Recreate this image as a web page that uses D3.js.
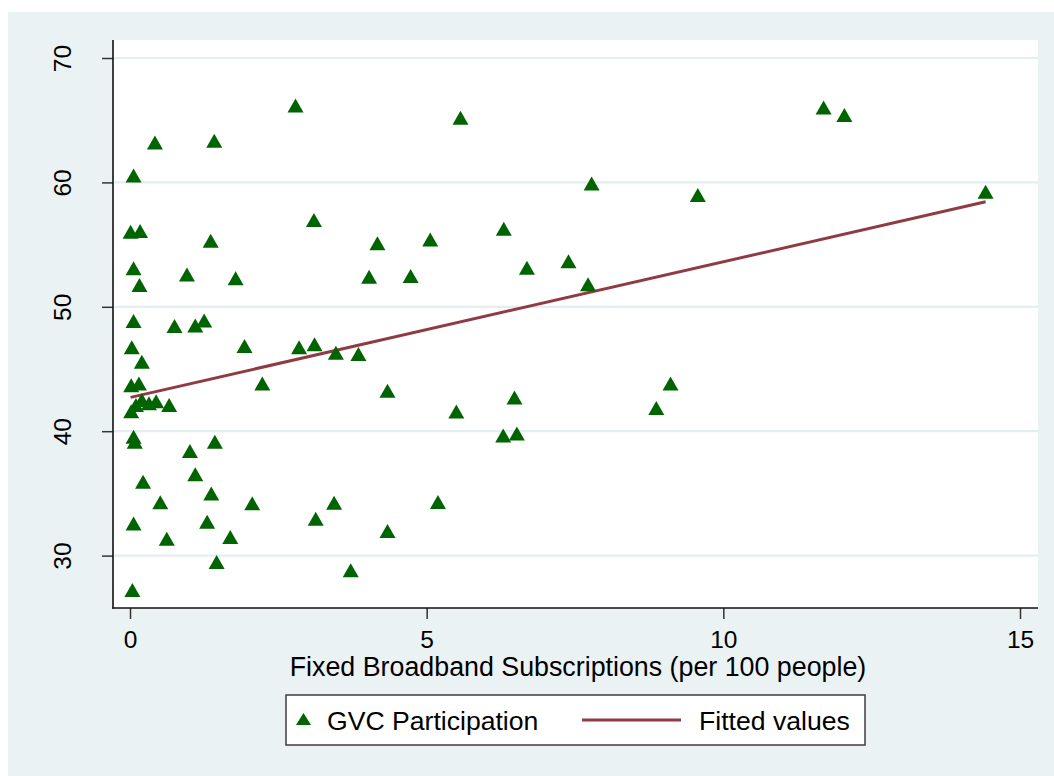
<!DOCTYPE html>
<html>
<head>
<meta charset="utf-8">
<script src="https://cdn.jsdelivr.net/npm/d3@7"></script>
<style>
  html, body { margin: 0; padding: 0; background: #ffffff; }
  svg { display: block; font-family: "Liberation Sans", Arial, sans-serif; }
</style>
</head>
<body>
<svg id="chart" width="1054" height="776"></svg>
<script>
// ---- Data ----
const broadband = [
  0.06, 0.01, 0.17, 1.36, 0.06, 0.96, 1.78, 0.16, 0.06, 0.75,
  1.10, 1.25, 0.03, 1.93, 0.20, 0.02, 0.15, 2.23, 0.10, 0.20,
  0.32, 0.44, 0.66, 0.02, 0.06, 0.08, 1.43, 1.01, 1.10, 0.22,
  1.37, 0.51, 2.06, 0.06, 1.30, 0.62, 1.69, 1.46, 0.04, 2.79,
  5.57, 3.10, 4.17, 5.06, 6.30, 4.03, 4.73, 6.69, 2.85, 3.11,
  3.47, 3.85, 4.34, 5.50, 6.48, 6.29, 6.52, 3.44, 3.13, 5.19,
  4.34, 3.72, 11.69, 12.04, 7.78, 9.57, 14.42, 7.39, 7.72, 9.11,
  8.87, 1.42, 0.42
];
const gvc = [
  60.56, 56.03, 56.10, 55.30, 53.10, 52.60, 52.30, 51.75, 48.85, 48.45,
  48.50, 48.90, 46.74, 46.84, 45.58, 43.70, 43.84, 43.84, 42.10, 42.50,
  42.25, 42.40, 42.10, 41.60, 39.55, 39.15, 39.15, 38.40, 36.53, 35.93,
  35.00, 34.28, 34.20, 32.59, 32.72, 31.35, 31.49, 29.48, 27.23, 66.19,
  65.19, 56.97, 55.10, 55.42, 56.27, 52.41, 52.47, 53.14, 46.74, 46.98,
  46.30, 46.20, 43.25, 41.59, 42.70, 39.66, 39.82, 34.24, 32.96, 34.30,
  31.97, 28.83, 66.03, 65.41, 59.92, 58.98, 59.25, 53.67, 51.82, 43.84,
  41.86, 63.35, 63.20
];
const fitX = [0.01, 14.42];
const fitY = [42.72, 58.44];
const xTicks = [0, 5, 10, 15];
const yTicks = [30, 40, 50, 60, 70];
const xTitle = "Fixed Broadband Subscriptions (per 100 people)";
const legendLabels = ["GVC Participation", "Fitted values"];

// ---- Styles ----
const bgColor = "#eaf2f3";
const gridColor = "#e4edef";
const markerColor = "#006400";
const lineColor = "#903a44";
const fontSize = 26.8;
const tickFont = 24.5;

const svg = d3.select("#chart");
const W = 1054, H = 776;
const plot = { left: 113, top: 40, right: 1038, bottom: 608 };

svg.append("rect").attr("x", 0).attr("y", 0).attr("width", W).attr("height", H).attr("fill", "#ffffff");
svg.append("rect").attr("x", 8).attr("y", 12).attr("width", W - 8).attr("height", H - 12).attr("fill", bgColor);
svg.append("rect").attr("x", plot.left).attr("y", plot.top)
  .attr("width", plot.right - plot.left).attr("height", plot.bottom - plot.top).attr("fill", "#ffffff");

const x = d3.scaleLinear().domain([0, 15]).range([130, 1020]);
const y = d3.scaleLinear().domain([30, 70]).range([555.6, 58]);

// gridlines
svg.append("g").selectAll("line").data(yTicks).join("line")
  .attr("x1", plot.left + 1).attr("x2", plot.right)
  .attr("y1", d => y(d)).attr("y2", d => y(d))
  .attr("stroke", gridColor).attr("stroke-width", 2.2);

// Y axis
const yAxisG = svg.append("g").attr("transform", `translate(${plot.left},0)`)
  .call(d3.axisLeft(y).tickValues(yTicks).tickSize(11).tickSizeOuter(0));
yAxisG.select(".domain").remove();
yAxisG.selectAll(".tick line").attr("stroke", "#333").attr("stroke-width", 1.5);
yAxisG.selectAll(".tick text")
  .attr("x", 0).attr("y", -42).attr("dy", 0)
  .attr("transform", "rotate(-90)")
  .attr("text-anchor", "middle")
  .attr("font-size", tickFont).attr("font-family", "Liberation Sans, Arial, sans-serif")
  .attr("fill", "#000");

// X axis
const xAxisG = svg.append("g").attr("transform", `translate(0,${plot.bottom})`)
  .call(d3.axisBottom(x).tickValues(xTicks).tickSize(11).tickSizeOuter(0));
xAxisG.select(".domain").remove();
xAxisG.selectAll(".tick line").attr("stroke", "#333").attr("stroke-width", 1.5);
xAxisG.selectAll(".tick text")
  .attr("y", 39.5).attr("dy", 0)
  .attr("font-size", tickFont).attr("font-family", "Liberation Sans, Arial, sans-serif")
  .attr("fill", "#000");

// axis lines
svg.append("line").attr("x1", plot.left).attr("x2", plot.left)
  .attr("y1", plot.top).attr("y2", plot.bottom + 0.75)
  .attr("stroke", "#111").attr("stroke-width", 1.6);
svg.append("line").attr("x1", plot.left - 0.75).attr("x2", plot.right)
  .attr("y1", plot.bottom).attr("y2", plot.bottom)
  .attr("stroke", "#111").attr("stroke-width", 1.6);

// axis title
svg.append("text").attr("x", 578).attr("y", 676)
  .attr("text-anchor", "middle").attr("font-size", fontSize).attr("fill", "#000")
  .text(xTitle);

// fitted line
const fitData = fitX.map((v, i) => [v, fitY[i]]);
svg.append("path").datum(fitData)
  .attr("d", d3.line().x(d => x(d[0])).y(d => y(d[1])))
  .attr("fill", "none").attr("stroke", lineColor).attr("stroke-width", 3);

// markers
const tri = (w, h) => `M0,${-h / 2}L${w / 2},${h / 2}L${-w / 2},${h / 2}Z`;
const pts = broadband.map((v, i) => [v, gvc[i]]);
svg.append("g").selectAll("path").data(pts).join("path")
  .attr("transform", d => `translate(${x(d[0])},${y(d[1])})`)
  .attr("d", tri(16, 14))
  .attr("fill", markerColor);

// legend
const lg = svg.append("g");
lg.append("rect").attr("x", 286).attr("y", 695).attr("width", 579).attr("height", 50)
  .attr("fill", "#ffffff").attr("stroke", "#3d3d3d").attr("stroke-width", 1.5);
lg.append("path").attr("transform", "translate(303.5,719)").attr("d", tri(15, 12)).attr("fill", markerColor);
lg.append("text").attr("x", 327).attr("y", 730).attr("font-size", 26.6).attr("fill", "#000").text(legendLabels[0]);
lg.append("line").attr("x1", 582).attr("x2", 681).attr("y1", 720).attr("y2", 720)
  .attr("stroke", lineColor).attr("stroke-width", 3);
lg.append("text").attr("x", 699).attr("y", 730).attr("font-size", 26.6).attr("fill", "#000").text(legendLabels[1]);
</script>
</body>
</html>
